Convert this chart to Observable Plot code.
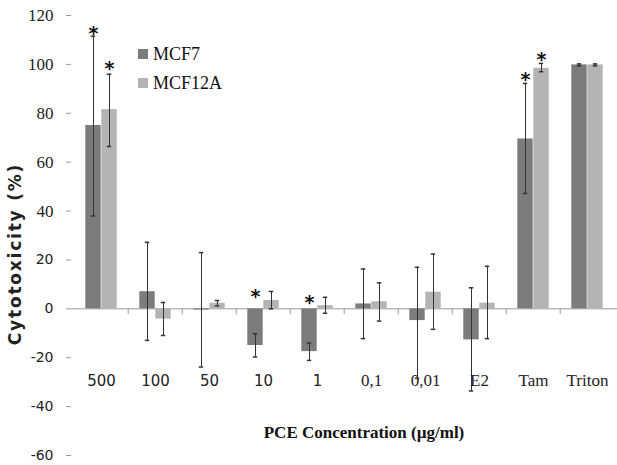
<!DOCTYPE html>
<html>
<head>
<meta charset="utf-8">
<script src="https://cdn.jsdelivr.net/npm/d3@7"></script>
<script src="https://cdn.jsdelivr.net/npm/@observablehq/plot@0.6"></script>
<style>
  body { margin: 0; background: #fff; }
  #wrap { position: relative; width: 617px; height: 465px; }
  .leg { position: absolute; font-family: "Liberation Serif", serif; font-size: 18px; color: #111; display: flex; align-items: center; }
  .leg span.sw { display: inline-block; width: 10px; height: 10px; margin-right: 5px; }
  #ytitle { position: absolute; left: 15px; top: 254px; transform: translate(-50%, -50%) rotate(-90deg); white-space: nowrap; font-family: "DejaVu Sans", sans-serif; font-weight: bold; font-size: 17px; letter-spacing: 1.8px; color: #222; }
  #xtitle { position: absolute; left: 364px; top: 433px; transform: translate(-50%, -50%); white-space: nowrap; font-family: "Liberation Serif", serif; font-weight: bold; font-size: 17px; color: #111; }
</style>
</head>
<body>
<div id="wrap"></div>
<script>
const categories = ["500", "100", "50", "10", "1", "0,1", "0,01", "E2", "Tam", "Triton"];
const seriesNames = ["MCF7", "MCF12A"];
const mcf7 = [75, 7, -0.5, -15, -17.5, 2, -4.8, -12.7, 69.5, 99.8];
const mcf7Hi = [111.5, 27.2, 23, -10.2, -14, 16.3, 17, 8.6, 92.2, 100.2];
const mcf7Lo = [38, -12.9, -23.8, -19.7, -21.1, -12.2, -28.4, -33.6, 47.2, 99.4];
const mcf12a = [81.5, -4.2, 2.3, 3.4, 1.3, 2.9, 6.8, 2.3, 98.4, 99.8];
const mcf12aHi = [96, 2.6, 3.4, 7.1, 4.7, 10.6, 22.4, 17.4, 100.4, 100.2];
const mcf12aLo = [66.4, -10.9, 1.2, 0, -1.8, -5, -8.4, -12.2, 97, 99.4];
const starCats = ["500", "500", "10", "1", "Tam", "Tam"];
const starSeries = ["MCF7", "MCF12A", "MCF7", "MCF7", "MCF7", "MCF12A"];
const starY = [114.4, 100, 6.8, 4.3, 95.6, 104];
const yTicksSerif = [40, 60, 80, 100, 120];
const yTicksSans = [-60, -40, -20, 0, 20];
const xLabelsSans = ["500", "100", "50", "10", "1"];
const xLabelsSerif = ["0,1", "0,01", "E2", "Tam", "Triton"];
const colors = ["#7c7c7c", "#b4b4b4"];

const W = 617, H = 465, ML = 71, MR = 0, MT = 15, MB = 10;
const step = (W - ML - MR) / categories.length;
const barW = 16;
const pairPad = (step - 2 * barW) / 2;
const capW = 5;

const rows = [];
categories.forEach((c, i) => {
  rows.push({cat: c, s: "MCF7", v: mcf7[i], hi: mcf7Hi[i], lo: mcf7Lo[i]});
  rows.push({cat: c, s: "MCF12A", v: mcf12a[i], hi: mcf12aHi[i], lo: mcf12aLo[i]});
});
const stars = starCats.map((c, i) => ({cat: c, s: starSeries[i], y: starY[i]}));

function barInsets(s) {
  return s === "MCF7"
    ? {insetLeft: pairPad, insetRight: pairPad + barW}
    : {insetLeft: pairPad + barW, insetRight: pairPad};
}
function centerDx(s) { return s === "MCF7" ? -barW / 2 : barW / 2; }
function capInsets(s) {
  const c = step / 2 + centerDx(s);
  return {insetLeft: c - capW / 2, insetRight: step - c - capW / 2};
}

const marks = [];
const serifFont = "'Liberation Serif', serif";
const sansFont = "'DejaVu Sans', sans-serif";

marks.push(Plot.ruleY([0], {stroke: "#9a9a9a", strokeWidth: 1}));
marks.push(Plot.ruleX(categories.slice(1), {x: d => d, y1: 0, y2: -2.4, dx: -step / 2, stroke: "#9a9a9a"}));
marks.push(Plot.axisY({ticks: [...yTicksSans, ...yTicksSerif], tickSize: 5, tickFormat: () => "", stroke: "#9a9a9a", label: null, line: true}));
marks.push(Plot.text(yTicksSerif, {y: d => d, text: d => String(d), frameAnchor: "left", textAnchor: "end", dx: -18, fontFamily: serifFont, fontSize: 17, fill: "#222"}));
marks.push(Plot.text(yTicksSans, {y: d => d, text: d => String(d), frameAnchor: "left", textAnchor: "end", dx: -18, fontFamily: sansFont, fontSize: 14, fill: "#222"}));
marks.push(Plot.text(xLabelsSans, {x: d => d, text: d => d, frameAnchor: "bottom", dy: -70, fontFamily: sansFont, fontSize: 15, fill: "#222"}));
marks.push(Plot.text(xLabelsSerif, {x: d => d, text: d => d, frameAnchor: "bottom", dy: -70, fontFamily: serifFont, fontSize: 17, fill: "#222"}));

seriesNames.forEach((s, k) => {
  const data = rows.filter(r => r.s === s);
  marks.push(Plot.barY(data, {x: "cat", y1: 0, y2: "v", fill: colors[k], ...barInsets(s)}));
});
seriesNames.forEach((s) => {
  const data = rows.filter(r => r.s === s);
  marks.push(Plot.ruleX(data, {x: "cat", y1: "lo", y2: "hi", dx: centerDx(s), stroke: "#333", strokeWidth: 1}));
  marks.push(Plot.tickY(data, {x: "cat", y: "hi", stroke: "#333", strokeWidth: 1.5, ...capInsets(s)}));
  marks.push(Plot.tickY(data, {x: "cat", y: "lo", stroke: "#333", strokeWidth: 1.5, ...capInsets(s)}));
  const st = stars.filter(d => d.s === s);
  marks.push(Plot.text(st, {x: "cat", y: "y", text: () => "*", dx: centerDx(s), dy: 5, fontSize: 19, fontWeight: "bold", fontFamily: sansFont, fill: "#111"}));
});

const chart = Plot.plot({
  width: W, height: H,
  marginLeft: ML, marginRight: MR, marginTop: MT, marginBottom: MB,
  style: {background: "#fff"},
  x: {type: "band", domain: categories, padding: 0, axis: null},
  y: {domain: [-60, 120], axis: null},
  marks
});

const wrap = document.getElementById("wrap");
wrap.appendChild(chart);
const legTop = [54, 83];
seriesNames.forEach((s, k) => {
  const d = document.createElement("div");
  d.className = "leg";
  d.style.left = "138px";
  d.style.top = (legTop[k] - 11) + "px";
  d.style.height = "22px";
  d.innerHTML = `<span class="sw" style="background:${colors[k]}"></span>${s}`;
  wrap.appendChild(d);
});
const yt = document.createElement("div");
yt.id = "ytitle";
yt.textContent = "Cytotoxicity (%)";
wrap.appendChild(yt);
const xt = document.createElement("div");
xt.id = "xtitle";
xt.textContent = "PCE Concentration (µg/ml)";
wrap.appendChild(xt);
</script>
</body>
</html>
